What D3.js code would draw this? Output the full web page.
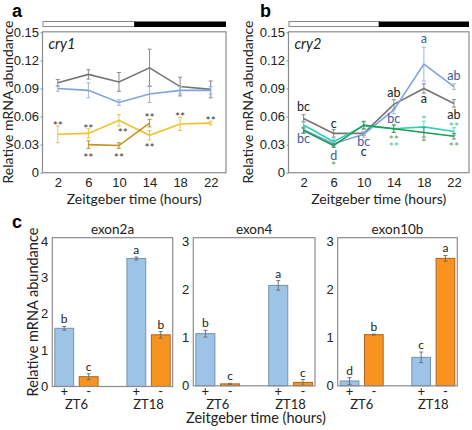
<!DOCTYPE html>
<html><head><meta charset="utf-8">
<script src="https://cdn.jsdelivr.net/npm/d3@7"></script>
<style>body{margin:0;background:#fff}svg{display:block;font-family:Lato,"Open Sans",sans-serif}</style>
</head><body>
<svg id="chart" width="472" height="430"></svg>
<script>
// ---------- data ----------
const hours = [2, 6, 10, 14, 18, 22];
const lineYTicks = [0, 0.03, 0.06, 0.09, 0.12, 0.15];

// panel a: cry1
const cry1Gray = [0.096, 0.105, 0.097, 0.112, 0.092, 0.089];
const cry1GrayErr = [0.0035, 0.005, 0.010, 0.020, 0.010, 0.009];
const cry1Blue = [0.090, 0.088, 0.075, 0.084, 0.088, 0.088];
const cry1BlueErr = [0.003, 0.008, 0.003, 0.009, 0.004, 0.004];
const cry1Yellow = [0.041, 0.042, 0.056, 0.040, 0.052, 0.053];
const cry1YellowErr = [0.009, 0.005, 0.006, 0.005, 0.007, 0.002];
const cry1DarkHours = [6, 10, 14];
const cry1Dark = [0.030, 0.029, 0.053];
const cry1DarkErr = [0.004, 0.003, 0.004];
const cry1Marks = [
  {h: 2, v: 0.0534, t: "**"}, {h: 6, v: 0.0499, t: "**"}, {h: 6, v: 0.0189, t: "**"},
  {h: 10.5, v: 0.0456, t: "**"}, {h: 10, v: 0.0189, t: "**"}, {h: 14, v: 0.0616, t: "**"},
  {h: 14, v: 0.0296, t: "**"}, {h: 18, v: 0.0627, t: "**"}, {h: 22, v: 0.0588, t: "**"}
];

// panel b: cry2
const cry2Gray = [0.058, 0.042, 0.042, 0.073, 0.090, 0.074];
const cry2GrayErr = [0.004, 0.004, 0.002, 0.005, 0.005, 0.004];
const cry2Blue = [0.046, 0.031, 0.041, 0.067, 0.116, 0.092];
const cry2BlueErr = [0.003, 0.003, 0.003, 0.004, 0.018, 0.003];
const cry2Teal = [0.051, 0.033, 0.050, 0.047, 0.049, 0.044];
const cry2TealErr = [0.004, 0.003, 0.004, 0.004, 0.006, 0.004];
const cry2Green = [0.045, 0.029, 0.051, 0.047, 0.043, 0.039];
const cry2GreenErr = [0.003, 0.002, 0.004, 0.004, 0.005, 0.003];
const cry2Marks = [
  {h: 2, v: 0.0705, t: "bc", k: "gray"}, {h: 2, v: 0.0357, t: "bc", k: "blue"},
  {h: 6, v: 0.052, t: "c", k: "gray"}, {h: 6, v: 0.0182, t: "d", k: "blue"}, {h: 6, v: 0.0105, t: "*", k: "green"},
  {h: 10, v: 0.0328, t: "bc", k: "blue"}, {h: 10, v: 0.0225, t: "c", k: "gray"},
  {h: 14, v: 0.0848, t: "ab", k: "gray"}, {h: 14, v: 0.0574, t: "bc", k: "blue"},
  {h: 14, v: 0.0385, t: "**", k: "green"}, {h: 14, v: 0.0305, t: "**", k: "teal"},
  {h: 18, v: 0.1425, t: "a", k: "blue"}, {h: 18, v: 0.0784, t: "a", k: "gray"},
  {h: 18, v: 0.0595, t: "*", k: "teal"}, {h: 18, v: 0.0349, t: "*", k: "green"},
  {h: 22, v: 0.1033, t: "ab", k: "blue"}, {h: 22, v: 0.0616, t: "ab", k: "gray"},
  {h: 22, v: 0.052, t: "**", k: "teal"}, {h: 22, v: 0.0307, t: "**", k: "green"}
];

// panel c: exon bars
const ztGroups = ["ZT6", "ZT18"];
const treatments = ["+", "-"];
const exon2a = [1.60, 0.27, 3.52, 1.42];
const exon2aErr = [0.05, 0.08, 0.04, 0.09];
const exon2aLetters = ["b", "c", "a", "b"];
const exon4 = [1.08, 0.04, 2.08, 0.07];
const exon4Err = [0.07, 0.01, 0.10, 0.06];
const exon4Letters = ["b", "c", "a", "c"];
const exon10b = [0.10, 1.06, 0.59, 2.64];
const exon10bErr = [0.07, 0.01, 0.11, 0.06];
const exon10bLetters = ["d", "b", "c", "a"];

// ---------- drawing ----------
const svg = d3.select("#chart");
const TXT = "#222";
const colors = {
  gray: "#757575", grayErr: "#8a8a8a", grayTxt: "#222",
  blue: "#7fa3dc", blueErr: "#9db6de", blueTxt: "#3d5c9c",
  yellow: "#f2c02a", yellowErr: "#e9c25a",
  dark: "#c8901c", darkErr: "#b8902e",
  teal: "#2fd3b3", tealErr: "#5bd6bc", tealTxt: "#38c9a2",
  green: "#1f9a52", greenErr: "#4a9a68", greenTxt: "#6a9a5c",
  starA: "#3a3a3a",
  barBlue: "#9dc3e6", barBlueStroke: "#7592b0",
  barOrange: "#f7931e", barOrangeStroke: "#b0661e"
};

function linePanel(cfg) {
  const x = d3.scaleLinear().domain([0, 24]).range([cfg.x0, cfg.x1]);
  const y = d3.scaleLinear().domain([0, 0.15]).range([172.7, 32.3]);
  const g = svg.append("g");
  // light/dark bar
  g.append("rect").attr("x", x(0) + 0.5).attr("y", 21.5).attr("width", x(12) - x(0)).attr("height", 5)
    .attr("fill", "#fff").attr("stroke", "#888").attr("stroke-width", 1);
  g.append("rect").attr("x", x(12)).attr("y", 21.5).attr("width", x(24) - x(12)).attr("height", 5.5).attr("fill", "#000");
  // box
  g.append("rect").attr("x", x(0)).attr("y", 31.8).attr("width", x(24) - x(0)).attr("height", y(0) - 31.8)
    .attr("fill", "none").attr("stroke", "#8c8c8c").attr("stroke-width", 1.2);
  // axes
  g.append("g").attr("transform", `translate(${x(0)},0)`)
    .call(d3.axisLeft(y).tickValues(lineYTicks).tickFormat(d => d === 0 ? "0" : d3.format(".2f")(d)).tickSize(2).tickPadding(1.5))
    .call(a => { a.select(".domain").remove(); a.selectAll("line").attr("stroke", "#888");
      a.selectAll("text").attr("font-size", 13).attr("fill", TXT).attr("font-family", null); });
  g.append("g").attr("transform", `translate(0,${y(0)})`)
    .call(d3.axisBottom(x).tickValues(hours).tickSize(0).tickPadding(5))
    .call(a => { a.select(".domain").remove();
      a.selectAll("text").attr("font-size", 13).attr("fill", TXT).attr("font-family", null); });
  // titles
  g.append("text").attr("transform", `translate(${cfg.yTitleX},102) rotate(-90)`).attr("text-anchor", "middle")
    .attr("font-size", 14).attr("fill", TXT).text("Relative mRNA abundance");
  g.append("text").attr("x", (cfg.x0 + cfg.x1) / 2).attr("y", 203.5).attr("text-anchor", "middle")
    .attr("font-size", 14).attr("fill", TXT).text("Zeitgeber time (hours)");
  g.append("text").attr("x", cfg.x0 + 6).attr("y", 49).attr("font-size", 14.5).attr("font-style", "italic")
    .attr("fill", TXT).text(cfg.gene);
  g.append("text").attr("x", cfg.labelX).attr("y", 17).attr("font-size", 18).attr("font-weight", "bold")
    .attr("font-family", "Liberation Sans, Arial, sans-serif").attr("fill", "#000").text(cfg.label);
  // series
  cfg.series.forEach(s => {
    const pts = s.h.map((h, i) => ({h, v: s.v[i], e: s.e[i]}));
    const eb = g.append("g").attr("stroke", s.errColor).attr("stroke-width", 1);
    pts.forEach(p => {
      eb.append("line").attr("x1", x(p.h)).attr("x2", x(p.h)).attr("y1", y(p.v - p.e)).attr("y2", y(p.v + p.e));
      [p.v - p.e, p.v + p.e].forEach(v => eb.append("line").attr("x1", x(p.h) - 2).attr("x2", x(p.h) + 2).attr("y1", y(v)).attr("y2", y(v)));
    });
    g.append("path").datum(pts).attr("d", d3.line().x(d => x(d.h)).y(d => y(d.v)))
      .attr("fill", "none").attr("stroke", s.color).attr("stroke-width", 1.6);
  });
  // annotations
  cfg.marks.forEach(m => {
    const star = m.t.includes("*");
    g.append("text").attr("x", x(m.h)).attr("y", y(m.v) + (star ? 7 : 4))
      .attr("text-anchor", "middle").attr("font-size", star ? 12 : 12.5).attr("fill", m.color).text(m.t);
  });
}

linePanel({
  x0: 42.5, x1: 226, yTitleX: 12.5, labelX: 12, label: "a", gene: "cry1",
  series: [
    {h: hours, v: cry1Gray, e: cry1GrayErr, color: colors.gray, errColor: colors.grayErr},
    {h: hours, v: cry1Blue, e: cry1BlueErr, color: colors.blue, errColor: colors.blueErr},
    {h: hours, v: cry1Yellow, e: cry1YellowErr, color: colors.yellow, errColor: colors.yellowErr},
    {h: cry1DarkHours, v: cry1Dark, e: cry1DarkErr, color: colors.dark, errColor: colors.darkErr}
  ],
  marks: cry1Marks.map(m => ({...m, color: colors.starA}))
});

const txtColor = {gray: colors.grayTxt, blue: colors.blueTxt, teal: colors.tealTxt, green: colors.greenTxt};
linePanel({
  x0: 288.5, x1: 469, yTitleX: 253, labelX: 260, label: "b", gene: "cry2",
  series: [
    {h: hours, v: cry2Gray, e: cry2GrayErr, color: colors.gray, errColor: colors.grayErr},
    {h: hours, v: cry2Blue, e: cry2BlueErr, color: colors.blue, errColor: colors.blueErr},
    {h: hours, v: cry2Teal, e: cry2TealErr, color: colors.teal, errColor: colors.tealErr},
    {h: hours, v: cry2Green, e: cry2GreenErr, color: colors.green, errColor: colors.greenErr}
  ],
  marks: cry2Marks.map(m => ({...m, color: txtColor[m.k]}))
});

function barPanel(cfg) {
  const y = d3.scaleLinear().domain([0, cfg.ymax]).range([cfg.y0, 241]);
  const gx = d3.scaleBand().domain(ztGroups).range([cfg.x0, cfg.x1]).paddingInner(0.4).paddingOuter(0.035);
  const tx = d3.scaleBand().domain(treatments).range([0, gx.bandwidth()]).paddingInner(0.23);
  const g = svg.append("g");
  const data = [];
  ztGroups.forEach((z, gi) => treatments.forEach((t, ti) => {
    const i = gi * 2 + ti;
    data.push({z, t, v: cfg.values[i], e: cfg.errs[i], l: cfg.letters[i]});
  }));
  g.selectAll("rect.bar").data(data).join("rect").attr("class", "bar")
    .attr("x", d => gx(d.z) + tx(d.t)).attr("width", tx.bandwidth())
    .attr("y", d => y(d.v)).attr("height", d => y(0) - y(d.v))
    .attr("fill", d => d.t === "+" ? colors.barBlue : colors.barOrange)
    .attr("stroke", d => d.t === "+" ? colors.barBlueStroke : colors.barOrangeStroke).attr("stroke-width", 1);
  const eb = g.append("g").attr("stroke", "#6a6a6a").attr("stroke-width", 0.9);
  data.forEach(d => {
    const cx = gx(d.z) + tx(d.t) + tx.bandwidth() / 2;
    eb.append("line").attr("x1", cx).attr("x2", cx).attr("y1", y(d.v - d.e)).attr("y2", y(d.v + d.e));
    [d.v - d.e, d.v + d.e].forEach(v => eb.append("line").attr("x1", cx - 2).attr("x2", cx + 2).attr("y1", y(v)).attr("y2", y(v)));
    g.append("text").attr("x", cx).attr("y", y(d.v + d.e) - 3).attr("text-anchor", "middle")
      .attr("font-size", 12).attr("fill", TXT).text(d.l);
    g.append("text").attr("x", cx).attr("y", 396).attr("text-anchor", "middle")
      .attr("font-size", 13).attr("fill", TXT).text(d.t);
  });
  ztGroups.forEach(z => g.append("text").attr("x", gx(z) + gx.bandwidth() / 2).attr("y", 408.5)
    .attr("text-anchor", "middle").attr("font-size", 13).attr("fill", TXT).text(z));
  // box
  g.append("rect").attr("x", cfg.x0).attr("y", 237.7).attr("width", cfg.x1 - cfg.x0).attr("height", y(0) - 237.7)
    .attr("fill", "none").attr("stroke", "#8c8c8c").attr("stroke-width", 1.2);
  g.append("g").attr("transform", `translate(${cfg.x0},0)`)
    .call(d3.axisLeft(y).ticks(cfg.ymax).tickFormat(d3.format("d")).tickSize(0).tickPadding(4))
    .call(a => { a.select(".domain").remove();
      a.selectAll("text").attr("font-size", 13).attr("fill", TXT).attr("font-family", null); });
  g.append("text").attr("x", (cfg.x0 + cfg.x1) / 2).attr("y", 234).attr("text-anchor", "middle")
    .attr("font-size", 13.5).attr("fill", TXT).text(cfg.title);
}

barPanel({x0: 52.3, x1: 172.7, y0: 386.5, ymax: 4, values: exon2a, errs: exon2aErr, letters: exon2aLetters, title: "exon2a"});
barPanel({x0: 193.3, x1: 315, y0: 385.8, ymax: 3, values: exon4, errs: exon4Err, letters: exon4Letters, title: "exon4"});
barPanel({x0: 337.7, x1: 457.3, y0: 385.8, ymax: 3, values: exon10b, errs: exon10bErr, letters: exon10bLetters, title: "exon10b"});

svg.append("text").attr("transform", "translate(37.5,312) rotate(-90)").attr("text-anchor", "middle")
  .attr("font-size", 14.5).attr("fill", TXT).text("Relative mRNA abundance");
svg.append("text").attr("x", 256).attr("y", 423).attr("text-anchor", "middle")
  .attr("font-size", 14.5).attr("fill", TXT).text("Zeitgeber time (hours)");
svg.append("text").attr("x", 12).attr("y", 228).attr("font-size", 18).attr("font-weight", "bold")
  .attr("font-family", "Liberation Sans, Arial, sans-serif").attr("fill", "#000").text("c");
</script>
</body></html>
